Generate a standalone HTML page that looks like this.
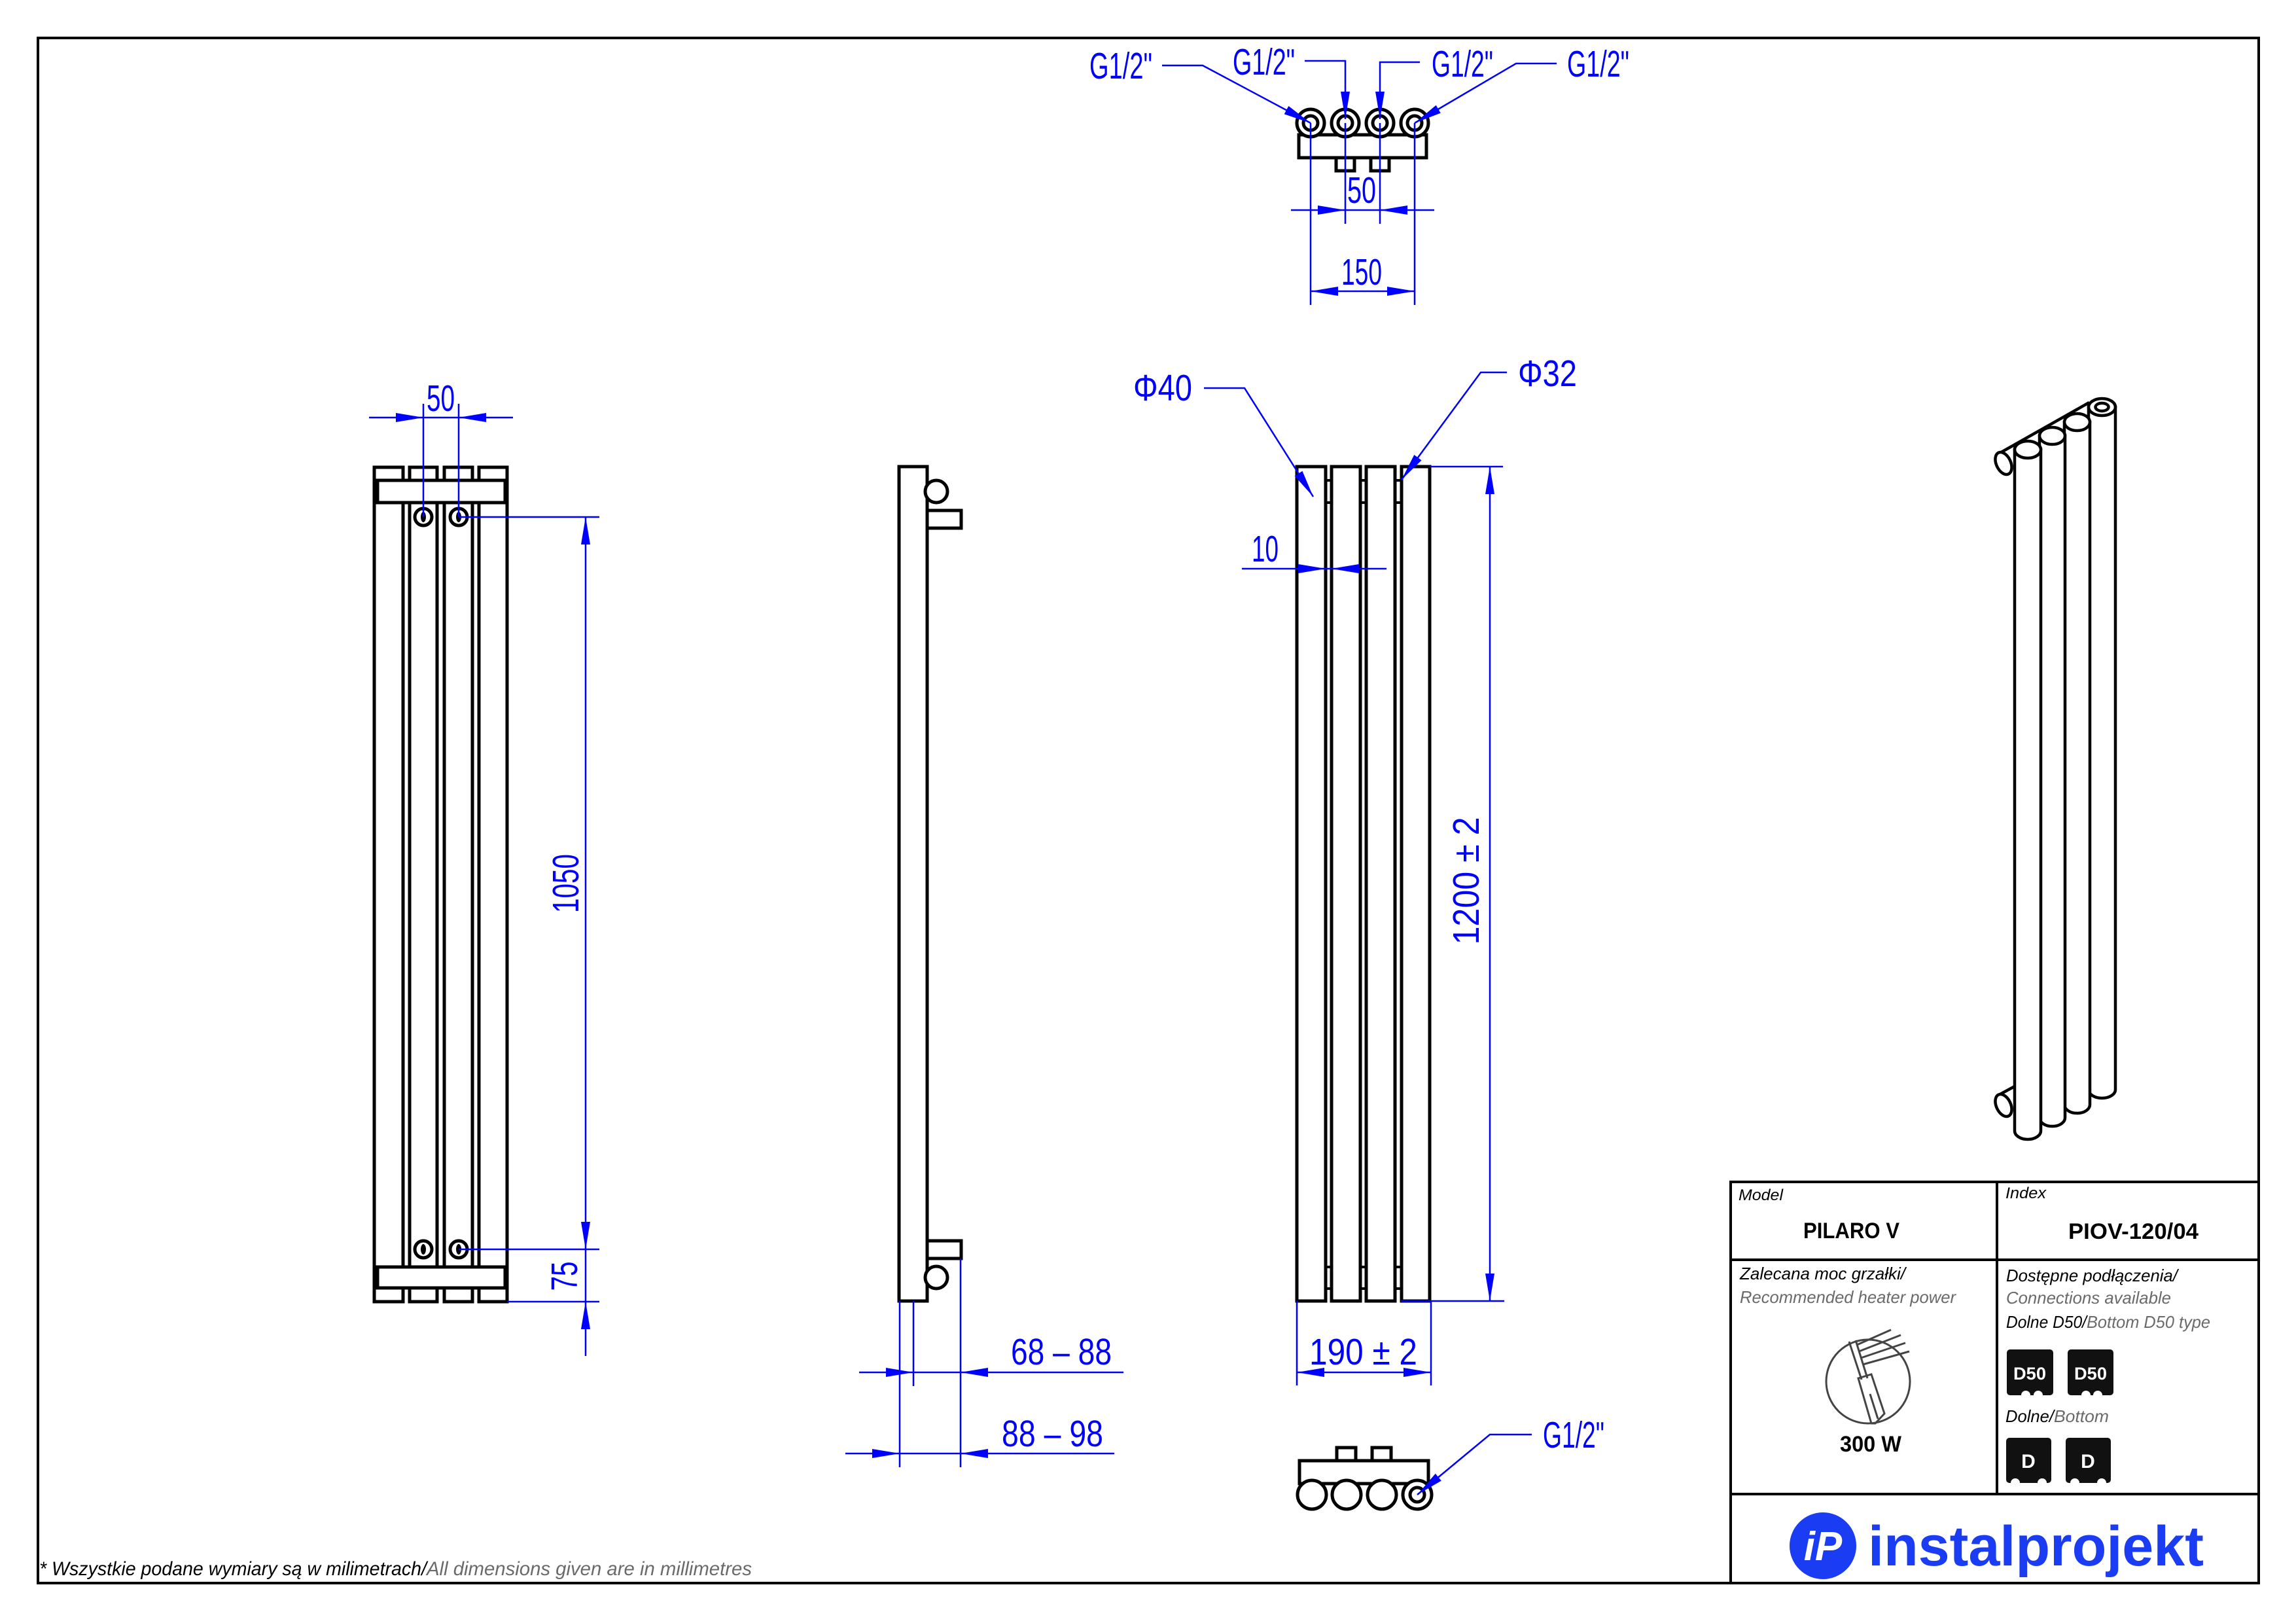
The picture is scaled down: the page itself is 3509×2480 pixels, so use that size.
<!DOCTYPE html>
<html><head><meta charset="utf-8"><style>
html,body{margin:0;padding:0;background:#fff}
svg{display:block}
.d{font-family:"Liberation Sans",sans-serif;fill:#0000ff;font-size:57px}
.b{stroke:#000;stroke-width:5;fill:none}
.bw{stroke:#000;stroke-width:5;fill:#fff}
.l{stroke:#0000ff;stroke-width:2.5;fill:none}
.a{fill:#0000ff}
.t{font-family:"Liberation Sans",sans-serif}
</style></head><body>
<svg width="3509" height="2480" viewBox="0 0 3509 2480" xmlns="http://www.w3.org/2000/svg">
<rect x="58" y="58" width="3394" height="2361" fill="none" stroke="#000" stroke-width="4"/>

<!-- ===== TOP VIEW ===== -->
<rect x="1985" y="206" width="195" height="35" class="b"/>
<rect x="2042" y="241" width="28" height="20" class="b" stroke-width="4"/>
<rect x="2095" y="241" width="28" height="20" class="b" stroke-width="4"/>
<g class="bw" stroke-width="4.5">
<circle cx="2003" cy="188" r="21"/><circle cx="2056" cy="188" r="21"/><circle cx="2109" cy="188" r="21"/><circle cx="2162" cy="188" r="21"/>
<circle cx="2003" cy="188" r="11"/><circle cx="2056" cy="188" r="11"/><circle cx="2109" cy="188" r="11"/><circle cx="2162" cy="188" r="11"/>
</g>
<g class="l">
<polyline points="1776,100 1838,100 2003,188"/>
<polyline points="1994,93 2056,93 2056,182"/>
<polyline points="2170,95 2109,95 2109,182"/>
<polyline points="2379,97 2317,97 2162,188"/>
<line x1="2003" y1="188" x2="2003" y2="466"/><line x1="2162" y1="188" x2="2162" y2="466"/>
<line x1="2056" y1="188" x2="2056" y2="342"/><line x1="2109" y1="188" x2="2109" y2="342"/>
<line x1="1973" y1="321" x2="2192" y2="321"/>
<line x1="2003" y1="445" x2="2162" y2="445"/>
</g>
<g class="a">
<polygon points="2003,188 1962.7,174.4 1969.3,162"/>
<polygon points="2056,182 2049,140 2063,140"/>
<polygon points="2109,182 2102,140 2116,140"/>
<polygon points="2162,188 2201.7,172.7 2194.7,160.7"/>
<polygon points="2056,321 2014,314 2014,328"/><polygon points="2109,321 2151,314 2151,328"/>
<polygon points="2003,445 2045,438 2045,452"/><polygon points="2162,445 2120,438 2120,452"/>
</g>
<text class="d" x="1665" y="120" textLength="96" lengthAdjust="spacingAndGlyphs">G1/2"</text>
<text class="d" x="1884" y="114" textLength="95" lengthAdjust="spacingAndGlyphs">G1/2"</text>
<text class="d" x="2188" y="117" textLength="94" lengthAdjust="spacingAndGlyphs">G1/2"</text>
<text class="d" x="2395" y="117" textLength="95" lengthAdjust="spacingAndGlyphs">G1/2"</text>
<text class="d" x="2059" y="310" textLength="44" lengthAdjust="spacingAndGlyphs">50</text>
<text class="d" x="2050" y="435" textLength="62" lengthAdjust="spacingAndGlyphs">150</text>

<!-- ===== LEFT (REAR) VIEW ===== -->
<g class="b">
<rect x="572" y="714" width="44" height="1275"/>
<rect x="626" y="714" width="42" height="1275"/>
<rect x="679" y="714" width="43" height="1275"/>
<rect x="732" y="714" width="43" height="1275"/>
</g>
<rect x="577" y="734" width="195" height="34" class="bw"/>
<rect x="577" y="1936" width="195" height="32" class="bw"/>
<g class="bw" stroke-width="5">
<circle cx="647" cy="790" r="13"/><circle cx="701" cy="790" r="13"/>
<circle cx="647" cy="1909" r="13"/><circle cx="701" cy="1909" r="13"/>
</g>
<g fill="#000"><ellipse cx="647" cy="790" rx="4" ry="8"/><ellipse cx="701" cy="790" rx="4" ry="8"/><ellipse cx="647" cy="1909" rx="4" ry="8"/><ellipse cx="701" cy="1909" rx="4" ry="8"/></g>
<g class="l">
<line x1="564" y1="638" x2="784" y2="638"/>
<line x1="647" y1="617" x2="647" y2="790"/><line x1="701" y1="617" x2="701" y2="790"/>
<line x1="701" y1="790" x2="916" y2="790"/><line x1="701" y1="1909" x2="916" y2="1909"/><line x1="775" y1="1989" x2="916" y2="1989"/>
<line x1="895" y1="790" x2="895" y2="2072"/>
</g>
<g class="a">
<polygon points="647,638 605,631 605,645"/><polygon points="701,638 743,631 743,645"/>
<polygon points="895,790 888,832 902,832"/><polygon points="895,1909 888,1867 902,1867"/><polygon points="895,1989 888,2031 902,2031"/>
</g>
<text class="d" x="652" y="628" textLength="43" lengthAdjust="spacingAndGlyphs">50</text>
<text class="d" transform="translate(864,1350) rotate(-90)" x="0" y="20" text-anchor="middle" textLength="90" lengthAdjust="spacingAndGlyphs">1050</text>
<text class="d" transform="translate(862,1950) rotate(-90)" x="0" y="20" text-anchor="middle" textLength="45" lengthAdjust="spacingAndGlyphs">75</text>

<!-- ===== SIDE VIEW ===== -->
<rect x="1374" y="713" width="43" height="1275" class="b"/>
<circle cx="1431" cy="751" r="17" class="bw" stroke-width="4"/>
<circle cx="1431" cy="1952" r="17" class="bw" stroke-width="4"/>
<rect x="1417" y="780" width="52" height="27" class="b" stroke-width="4"/>
<rect x="1417" y="1896" width="52" height="27" class="b" stroke-width="4"/>
<g class="l">
<line x1="1375" y1="1988" x2="1375" y2="2242"/><line x1="1396" y1="1988" x2="1396" y2="2118"/><line x1="1468" y1="1923" x2="1468" y2="2242"/>
<line x1="1313" y1="2097" x2="1717" y2="2097"/><line x1="1292" y1="2221" x2="1703" y2="2221"/>
</g>
<g class="a">
<polygon points="1396,2097 1354,2090 1354,2104"/><polygon points="1468,2097 1510,2090 1510,2104"/>
<polygon points="1375,2221 1333,2214 1333,2228"/><polygon points="1468,2221 1510,2214 1510,2228"/>
</g>
<text class="d" x="1545" y="2085" textLength="154" lengthAdjust="spacingAndGlyphs">68 – 88</text>
<text class="d" x="1531" y="2210" textLength="155" lengthAdjust="spacingAndGlyphs">88 – 98</text>

<!-- ===== FRONT VIEW ===== -->
<g class="b">
<rect x="1982" y="713" width="44" height="1275"/>
<rect x="2035" y="713" width="44" height="1275"/>
<rect x="2088" y="713" width="44" height="1275"/>
<rect x="2142" y="713" width="43" height="1275"/>
</g>
<g stroke="#000" stroke-width="4">
<line x1="2026" y1="734" x2="2035" y2="734"/><line x1="2026" y1="768" x2="2035" y2="768"/>
<line x1="2079" y1="734" x2="2088" y2="734"/><line x1="2079" y1="768" x2="2088" y2="768"/>
<line x1="2132" y1="734" x2="2142" y2="734"/><line x1="2132" y1="768" x2="2142" y2="768"/>
<line x1="2026" y1="1936" x2="2035" y2="1936"/><line x1="2026" y1="1969" x2="2035" y2="1969"/>
<line x1="2079" y1="1936" x2="2088" y2="1936"/><line x1="2079" y1="1969" x2="2088" y2="1969"/>
<line x1="2132" y1="1936" x2="2142" y2="1936"/><line x1="2132" y1="1969" x2="2142" y2="1969"/>
</g>
<g class="l">
<polyline points="1840,593 1902,593 2007,759"/>
<polyline points="2303,569 2263,569 2142,733"/>
<line x1="1898" y1="869" x2="2119" y2="869"/>
<line x1="2185" y1="713" x2="2297" y2="713"/><line x1="2141" y1="1988" x2="2299" y2="1988"/>
<line x1="2277" y1="713" x2="2277" y2="1988"/>
<line x1="1982" y1="1988" x2="1982" y2="2117"/><line x1="2187" y1="1988" x2="2187" y2="2117"/>
<line x1="1982" y1="2097" x2="2187" y2="2097"/>
</g>
<g class="a">
<polygon points="2007,759 1978.6,727.2 1990.4,719.8"/>
<polygon points="2142,733 2172.5,703.4 2161.3,695"/>
<polygon points="2026,869 1984,862 1984,876"/><polygon points="2035,869 2077,862 2077,876"/>
<polygon points="2277,713 2270,755 2284,755"/><polygon points="2277,1988 2270,1946 2284,1946"/>
<polygon points="1982,2097 2024,2090 2024,2104"/><polygon points="2187,2097 2145,2090 2145,2104"/>
</g>
<text class="d" x="1732" y="612" textLength="90" lengthAdjust="spacingAndGlyphs">Φ40</text>
<text class="d" x="2320" y="590" textLength="90" lengthAdjust="spacingAndGlyphs">Φ32</text>
<text class="d" x="1913" y="858" textLength="41" lengthAdjust="spacingAndGlyphs">10</text>
<text class="d" transform="translate(2240,1346) rotate(-90)" x="0" y="20" text-anchor="middle" textLength="195" lengthAdjust="spacingAndGlyphs">1200  ± 2</text>
<text class="d" x="2001" y="2085" textLength="165" lengthAdjust="spacingAndGlyphs">190  ± 2</text>

<!-- ===== BOTTOM VIEW ===== -->
<rect x="2043" y="2212" width="29" height="20" class="b" stroke-width="4"/>
<rect x="2097" y="2212" width="29" height="20" class="b" stroke-width="4"/>
<rect x="1986" y="2232" width="197" height="35" class="b"/>
<g class="bw" stroke-width="4.5">
<circle cx="2005" cy="2284" r="22"/><circle cx="2058" cy="2284" r="22"/><circle cx="2112" cy="2284" r="22"/><circle cx="2166" cy="2284" r="22"/><circle cx="2166" cy="2284" r="11"/>
</g>
<polyline class="l" points="2341,2192 2277,2192 2166,2284"/>
<polygon class="a" points="2166,2284 2202.8,2262.6 2193.8,2251.8"/>
<text class="d" x="2358" y="2212" textLength="94" lengthAdjust="spacingAndGlyphs">G1/2"</text>

<!-- ===== 3D VIEW ===== -->
<g stroke="#000" stroke-width="4.5" fill="#fff">
<line x1="3055" y1="693" x2="3193" y2="615"/>
<path d="M3192,622 L3192,1665 A20.5,13 0 0 0 3233,1665 L3233,622 Z"/>
<ellipse cx="3212.5" cy="622" rx="20.5" ry="13"/>
<ellipse cx="3212.5" cy="622" rx="10" ry="6"/>
<path d="M3155,645 L3155,1688 A19.5,13 0 0 0 3194,1688 L3194,645 Z"/>
<ellipse cx="3174.5" cy="645" rx="19.5" ry="13"/>
<path d="M3117,666 L3117,1708 A19.5,13 0 0 0 3156,1708 L3156,666 Z"/>
<ellipse cx="3136.5" cy="666" rx="19.5" ry="13"/>
<ellipse cx="3062" cy="708" rx="11" ry="18" transform="rotate(-25 3062 708)"/>
<line x1="3055" y1="1673" x2="3079" y2="1660"/>
<ellipse cx="3062" cy="1689" rx="11" ry="18" transform="rotate(-25 3062 1689)"/>
<path d="M3079,687 L3079,1728 A20,13 0 0 0 3119,1728 L3119,687 Z"/>
<ellipse cx="3099" cy="687" rx="20" ry="13"/>
</g>

<!-- ===== TITLE BLOCK ===== -->
<g stroke="#000" stroke-width="4" fill="none">
<rect x="2645" y="1806" width="807" height="613"/>
<line x1="3052" y1="1806" x2="3052" y2="2283"/>
<line x1="2645" y1="1925" x2="3452" y2="1925"/>
<line x1="2645" y1="2283" x2="3452" y2="2283"/>
</g>
<g class="t">
<text x="2657" y="1834" font-size="24" font-style="italic" textLength="68" lengthAdjust="spacingAndGlyphs">Model</text>
<text x="3065" y="1831" font-size="24" font-style="italic" textLength="62" lengthAdjust="spacingAndGlyphs">Index</text>
<text x="2756" y="1892" font-size="34" font-weight="bold" textLength="147" lengthAdjust="spacingAndGlyphs">PILARO V</text>
<text x="3161" y="1893" font-size="34" font-weight="bold" textLength="199" lengthAdjust="spacingAndGlyphs">PIOV-120/04</text>
<text x="2659" y="1955" font-size="26" font-style="italic" textLength="253" lengthAdjust="spacingAndGlyphs">Zalecana moc grzałki/</text>
<text x="2659" y="1991" font-size="26" font-style="italic" fill="#6a6a6a" textLength="330" lengthAdjust="spacingAndGlyphs">Recommended heater power</text>
<text x="3066" y="1958" font-size="26" font-style="italic" textLength="262" lengthAdjust="spacingAndGlyphs">Dostępne podłączenia/</text>
<text x="3066" y="1992" font-size="26" font-style="italic" fill="#6a6a6a" textLength="252" lengthAdjust="spacingAndGlyphs">Connections available</text>
<text x="3066" y="2029" font-size="26" font-style="italic" textLength="123" lengthAdjust="spacingAndGlyphs">Dolne D50/</text>
<text x="3189" y="2029" font-size="26" font-style="italic" fill="#6a6a6a" textLength="189" lengthAdjust="spacingAndGlyphs">Bottom D50 type</text>
<text x="3065" y="2173" font-size="26" font-style="italic" textLength="74" lengthAdjust="spacingAndGlyphs">Dolne/</text>
<text x="3139" y="2173" font-size="26" font-style="italic" fill="#6a6a6a" textLength="84" lengthAdjust="spacingAndGlyphs">Bottom</text>
<text x="2812" y="2218" font-size="34" font-weight="bold" textLength="94" lengthAdjust="spacingAndGlyphs">300 W</text>
</g>
<!-- heater icon -->
<g stroke="#444" stroke-width="3" fill="none">
<circle cx="2855" cy="2111" r="64"/>
<path d="M2826,2050 L2845,2108 M2836,2048 L2854,2106"/>
<path d="M2838,2055 L2890,2032 M2841,2065 L2905,2040 M2844,2075 L2912,2052 M2847,2085 L2918,2065"/>
<path d="M2840,2106 L2860,2100 L2880,2160 L2866,2175 L2860,2175 Z"/>
<path d="M2858,2130 L2870,2168"/>
</g>
<!-- connection icons -->
<g>
<rect x="3067" y="2062" width="71" height="70" rx="5" fill="#111"/>
<rect x="3160" y="2062" width="70" height="70" rx="5" fill="#111"/>
<rect x="3066" y="2197" width="69" height="69" rx="5" fill="#111"/>
<rect x="3157" y="2197" width="69" height="69" rx="5" fill="#111"/>
<g fill="#fff"><circle cx="3096" cy="2132" r="7"/><circle cx="3115" cy="2132" r="7"/><circle cx="3188" cy="2132" r="7"/><circle cx="3206" cy="2132" r="7"/>
<circle cx="3080" cy="2266" r="7"/><circle cx="3121" cy="2266" r="7"/><circle cx="3171" cy="2266" r="7"/><circle cx="3212" cy="2266" r="7"/></g>
<g class="t" font-weight="bold" fill="#fff" text-anchor="middle">
<text x="3102" y="2108" font-size="27" textLength="50" lengthAdjust="spacingAndGlyphs">D50</text>
<text x="3195" y="2108" font-size="27" textLength="50" lengthAdjust="spacingAndGlyphs">D50</text>
<text x="3100" y="2243" font-size="30">D</text>
<text x="3191" y="2243" font-size="30">D</text>
</g>
</g>
<!-- logo -->
<circle cx="2786" cy="2362" r="51" fill="#1a3cf2"/>
<text class="t" x="2786" y="2384" font-size="62" font-weight="bold" font-style="italic" fill="#fff" text-anchor="middle">iP</text>
<text class="t" x="2855" y="2392" font-size="86" font-weight="bold" fill="#1a3cf2" textLength="513" lengthAdjust="spacingAndGlyphs">instalprojekt</text>

<!-- footnote -->
<text class="t" x="60" y="2407" font-size="30" font-style="italic" textLength="592" lengthAdjust="spacingAndGlyphs">* Wszystkie podane wymiary są w milimetrach/</text>
<text class="t" x="652" y="2407" font-size="30" font-style="italic" fill="#6a6a6a" textLength="497" lengthAdjust="spacingAndGlyphs">All dimensions given are in millimetres</text>
</svg>
</body></html>
